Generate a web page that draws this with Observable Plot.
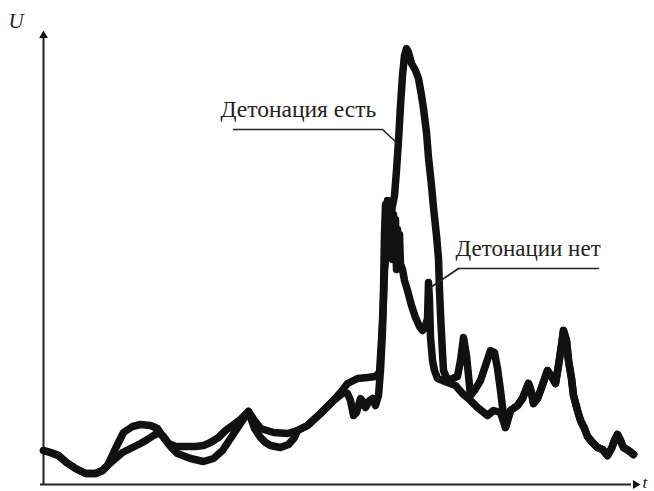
<!DOCTYPE html>
<html><head><meta charset="utf-8">
<script src="https://cdn.jsdelivr.net/npm/d3@7"></script>
<script src="https://cdn.jsdelivr.net/npm/@observablehq/plot@0.6"></script>
<style>body{margin:0;background:#fff}#chart svg{display:block}.serif text{font-family:"Liberation Serif","Times New Roman","DejaVu Serif",serif}</style>
</head><body><div id="chart"></div>
<script>
// Arbitrary units: t (time), U (signal)
const startT = [0, 7, 15, 23, 32, 42, 52, 59, 64];
const startU = [34, 32, 29, 22, 16, 11, 11, 14, 19];

const estT = [72, 80, 89, 97, 107, 114, 120, 127, 134, 147, 160, 170, 179, 187, 197, 205, 211, 217, 230, 244, 254, 264, 277, 290, 297, 304, 314, 324, 332, 336, 338, 340, 341, 344, 348, 351, 353, 355, 357, 359, 361, 363, 365, 368, 372, 375, 378, 380, 383, 385, 388, 390, 393, 395, 396, 397, 399, 400, 404, 409, 414, 417, 420, 423, 425, 427, 431, 437, 443, 447, 451, 454, 457, 460, 462];
const estU = [36, 52, 58, 60, 59, 56, 47, 38, 31, 26, 23, 26, 34, 46, 61, 73, 64, 56, 52, 51, 54, 59, 71, 84, 92, 101, 106, 107, 108, 112, 144, 184, 214, 244, 274, 289, 314, 344, 379, 409, 429, 436, 432, 421, 414, 406, 389, 376, 352, 327, 299, 277, 249, 226, 194, 171, 131, 114, 104, 106, 108, 124, 147, 129, 109, 89, 94, 104, 122, 134, 132, 116, 94, 69, 57];

const netT = [72, 79, 87, 97, 104, 110, 115, 120, 125, 132, 142, 152, 160, 167, 175, 182, 189, 197, 205, 211, 217, 222, 227, 237, 245, 251, 254, 264, 277, 290, 300, 304, 307, 310, 313, 317, 320, 322, 326, 329, 332, 335, 337, 339, 340, 341, 342, 343, 344, 345, 346, 347, 348, 349, 350, 351, 352, 353, 354, 355, 356, 357, 359, 361, 364, 368, 372, 376, 379, 382, 384, 385, 386, 387, 389, 391, 394, 399, 404, 412, 419, 425, 434, 444, 450, 457, 462];
const netU = [26, 32, 36, 41, 45, 49, 52, 48, 41, 38, 38, 38, 39, 42, 47, 54, 59, 65, 73, 56, 47, 42, 39, 37, 40, 47, 54, 59, 71, 84, 92, 91, 84, 69, 72, 86, 82, 77, 84, 86, 79, 89, 114, 154, 194, 250, 280, 270, 284, 230, 282, 260, 278, 225, 270, 240, 265, 215, 255, 235, 250, 220, 215, 204, 194, 179, 167, 158, 154, 159, 166, 202, 184, 147, 124, 114, 106, 104, 102, 99, 91, 86, 77, 69, 74, 72, 57];

const tailT = [467, 474, 479, 485, 488, 490, 494, 497, 504, 508, 512, 515, 518, 520, 523, 525, 528, 530, 534, 537, 541, 544, 549, 554, 559, 564, 568, 571, 574, 577, 580, 585, 590];
const tailU = [74, 79, 86, 101, 92, 81, 86, 94, 114, 108, 101, 119, 139, 154, 144, 124, 106, 89, 74, 64, 56, 48, 42, 37, 35, 29, 36, 44, 50, 44, 37, 34, 30];

const seriesNames = ["Детонация есть", "Детонации нет"];
const axisNames = ["U", "t"];

function build(name, tt, uu) {
  const T = [...startT, ...tt, ...tailT];
  const V = [...startU, ...uu, ...tailU];
  return T.map((t, i) => ({series: name, t, U: V[i]}));
}
const curves = [...build(seriesNames[0], estT, estU), ...build(seriesNames[1], netT, netU)];

const leader1 = [{t: 190, U: 355}, {t: 339, U: 355}, {t: 354, U: 341}];
const leader2 = [{t: 555, U: 216}, {t: 415, U: 216}, {t: 387, U: 197}];

const serif = "'Liberation Serif','Times New Roman','DejaVu Serif',serif";

const chart = Plot.plot({
  width: 654, height: 491,
  marginLeft: 43, marginRight: 9, marginTop: 28, marginBottom: 7,
  x: {domain: [0, 602], axis: null},
  y: {domain: [0, 456], axis: null},
  className: "serif",
  style: {background: "white", overflow: "visible", fontFamily: serif},
  marks: [
    Plot.ruleX([0], {y1: 0, y2: 446, stroke: "#222", strokeWidth: 2}),
    Plot.ruleY([0], {x1: -3, x2: 588, stroke: "#222", strokeWidth: 2}),
    Plot.dot([{t: 0, U: 449}], {x: "t", y: "U", symbol: "triangle2", r: 4.2, fill: "#111", stroke: null}),
    Plot.dot([{t: 592, U: 0}], {x: "t", y: "U", symbol: "triangle2", r: 4.2, fill: "#111", stroke: null, rotate: 90}),
    Plot.line(curves, {x: "t", y: "U", z: "series", stroke: "#111", strokeWidth: 7.5, strokeLinejoin: "round", strokeLinecap: "round"}),
    Plot.line(leader1, {x: "t", y: "U", stroke: "#222", strokeWidth: 1.6}),
    Plot.line(leader2, {x: "t", y: "U", stroke: "#222", strokeWidth: 1.6}),
    Plot.text([seriesNames[0]], {x: 177, y: 368, text: d => d, textAnchor: "start", lineAnchor: "bottom", fontSize: 23.5, fontFamily: serif, fill: "#222"}),
    Plot.text([seriesNames[1]], {x: 412, y: 229, text: d => d, textAnchor: "start", lineAnchor: "bottom", fontSize: 23, fontFamily: serif, fill: "#222"}),
    Plot.text([axisNames[0]], {x: -35, y: 457, text: d => d, textAnchor: "start", lineAnchor: "bottom", fontSize: 21, fontStyle: "italic", fontFamily: serif, fill: "#222"}),
    Plot.text([axisNames[1]], {x: 599, y: -3, text: d => d, textAnchor: "start", lineAnchor: "bottom", fontSize: 17, fontStyle: "italic", fontFamily: serif, fill: "#222"})
  ]
});
document.getElementById("chart").append(chart);
</script>
</body></html>
